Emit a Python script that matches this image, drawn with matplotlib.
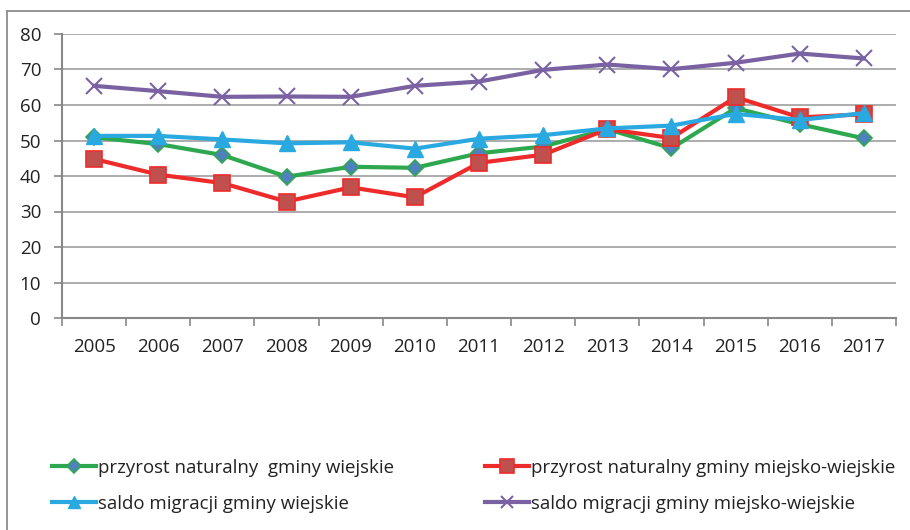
import matplotlib
matplotlib.use("Agg")
import matplotlib.pyplot as plt
from matplotlib.lines import Line2D

years = ["2005", "2006", "2007", "2008", "2009", "2010", "2011",
         "2012", "2013", "2014", "2015", "2016", "2017"]
przyrost_wiejskie = [50.9, 49.0, 45.9, 39.8, 42.6, 42.3, 46.4, 48.3, 53.2, 47.8, 59.1, 54.6, 50.6]
przyrost_miejsko = [44.8, 40.4, 38.0, 32.8, 36.8, 34.0, 43.7, 46.0, 53.2, 50.7, 62.2, 56.5, 57.4]
saldo_wiejskie = [51.3, 51.3, 50.3, 49.2, 49.5, 47.7, 50.5, 51.5, 53.4, 54.2, 57.5, 55.8, 57.7]
saldo_miejsko = [65.4, 63.9, 62.3, 62.4, 62.3, 65.4, 66.6, 69.9, 71.4, 70.1, 71.9, 74.5, 73.1]
yticks = [0, 10, 20, 30, 40, 50, 60, 70, 80]

labels = ["przyrost naturalny  gminy wiejskie",
          "przyrost naturalny gminy miejsko-wiejskie",
          "saldo migracji gminy wiejskie",
          "saldo migracji gminy miejsko-wiejskie"]

plt.rcParams['font.family'] = ['Open Sans', 'DejaVu Sans']

fig = plt.figure(figsize=(9.1, 5.3), dpi=100)
ax = fig.add_axes([62/910, 1-318/530, (896-62)/910, (318-34)/530])

x = list(range(len(years)))
lw = 3.0
l1, = ax.plot(x, przyrost_wiejskie, color="#2EA84E", lw=lw, marker="D", ms=8.5,
              mfc="#4F81BD", mec="#2EA84E", mew=1.2, zorder=3)
l2, = ax.plot(x, przyrost_miejsko, color="#EE2B2B", lw=lw, marker="s", ms=11.5,
              mfc="#C0504D", mec="#EE2B2B", mew=1.2, zorder=3)
l3, = ax.plot(x, saldo_wiejskie, color="#29A9E0", lw=lw, marker="^", ms=11,
              mfc="#29A9E0", mec="#29A9E0", zorder=4)
l4, = ax.plot(x, saldo_miejsko, color="#7A62A2", lw=lw, marker="x", ms=11,
              mec="#7A62A2", mew=1.5, zorder=3)

ax.set_xlim(-0.5, len(years) - 0.5)
ax.set_ylim(0, 80)
ax.set_yticks(yticks)
ax.set_yticklabels([str(v) for v in yticks], fontsize=13.5, color="#222222")
ax.tick_params(axis='y', length=6, width=1.2, color="#888888", pad=9)

ax.set_xticks([i - 0.5 for i in range(len(years) + 1)])
ax.set_xticklabels([])
ax.tick_params(axis='x', which='major', length=6, width=1.2, color="#888888")
ax.set_xticks(x, minor=True)
ax.set_xticklabels(years, minor=True, fontsize=13.5, color="#222222")
ax.tick_params(axis='x', which='minor', length=0, pad=14.5)

ax.grid(axis='y', color="#A6A6A6", lw=1.3, zorder=0)
ax.set_axisbelow(True)
for s in ["top", "right"]:
    ax.spines[s].set_visible(False)
for s in ["left", "bottom"]:
    ax.spines[s].set_color("#888888")
    ax.spines[s].set_linewidth(1.5)

# outer chart frame (left and top edges visible)
fig.add_artist(Line2D([7/910, 7/910], [0, 1-11/530], transform=fig.transFigure,
                      color="#8C8C8C", lw=1.3))
fig.add_artist(Line2D([7/910, 1], [1-11/530, 1-11/530], transform=fig.transFigure,
                      color="#8C8C8C", lw=1.3))

common = dict(frameon=False, handlelength=2.35, handletextpad=0.1, labelspacing=0.95,
              fontsize=13.4, loc='upper left', borderaxespad=0, borderpad=0,
              labelcolor="#222222", markerscale=0.85)
leg1 = fig.legend([l1, l3], [labels[0], labels[2]],
                  bbox_to_anchor=(52/910, 1-459/530), **common)
leg2 = fig.legend([l2, l4], [labels[1], labels[3]],
                  bbox_to_anchor=(485/910, 1-459/530), **common)

fig.savefig("out.png", dpi=100)
